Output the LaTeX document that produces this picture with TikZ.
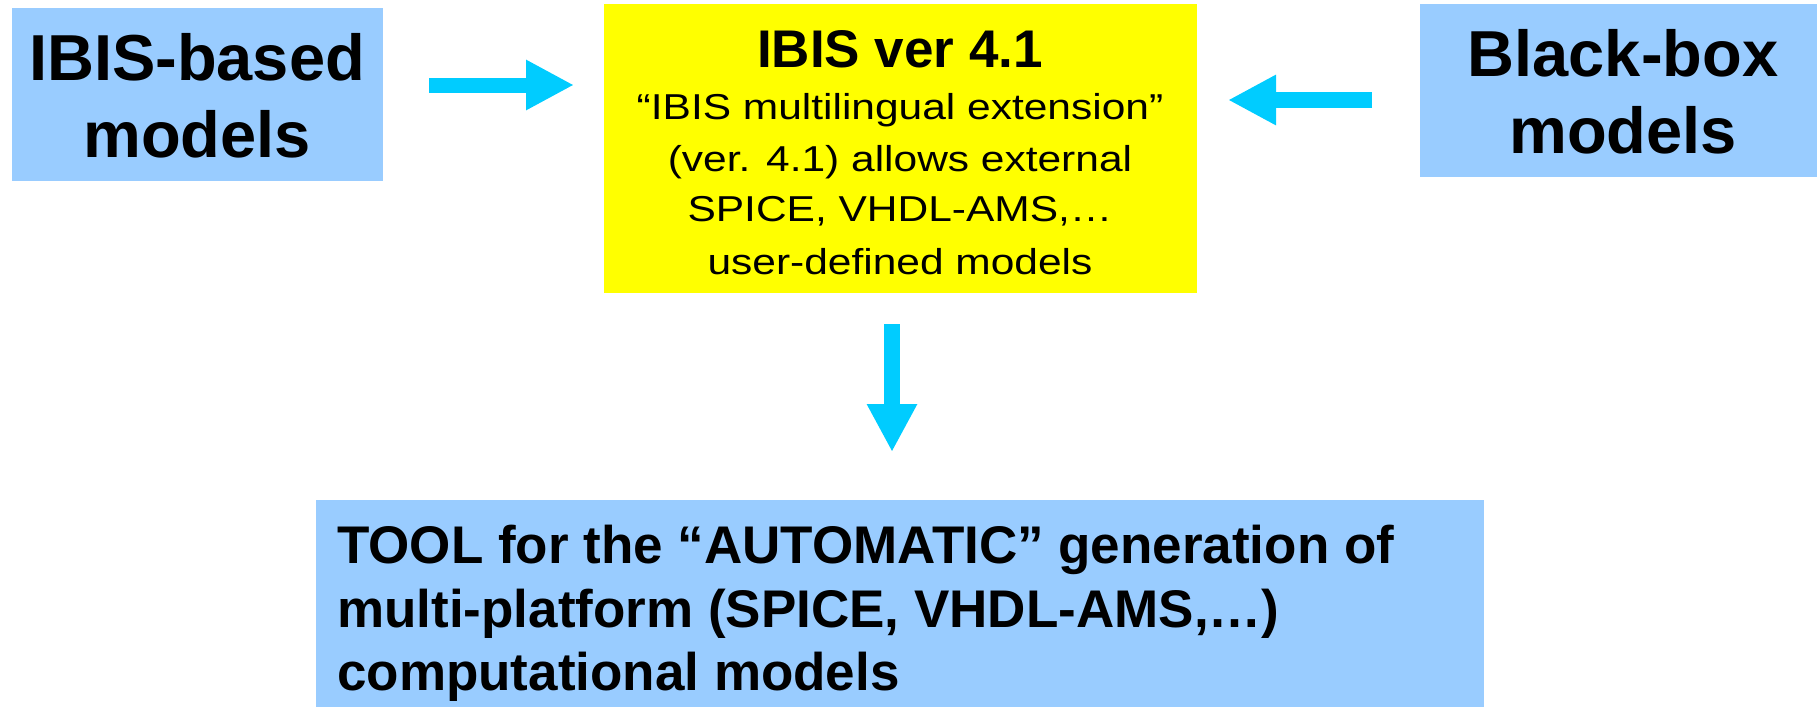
\documentclass[tikz,border=0pt]{standalone}
\usepackage{fontspec}
\setmainfont{Liberation Sans}
\newfontfamily\widefont[FakeStretch=1.18]{Liberation Sans}
\usetikzlibrary{arrows.meta}
\definecolor{boxblue}{RGB}{153,204,255}
\definecolor{boxyellow}{RGB}{255,255,0}
\definecolor{arrowcyan}{RGB}{0,204,255}
\tikzset{
  panel/.style={fill=#1, draw=none, inner sep=0pt, outer sep=0pt},
  bigtext/.style={font=\fontsize{65}{77}\selectfont\bfseries, inner sep=0pt, anchor=base},
  titletext/.style={font=\fontsize{53}{63}\selectfont\bfseries, inner sep=0pt, anchor=base},
  bodytext/.style={font=\widefont\fontsize{36}{52}\selectfont, inner sep=0pt, anchor=base},
  tooltext/.style={font=\fontsize{53}{63}\selectfont\bfseries, inner sep=0pt, anchor=base west},
  flowarrow/.style={draw=arrowcyan, line width=#1, -{Triangle[length=48pt,width=47pt]}},
}
\begin{document}
\begin{tikzpicture}[x=1pt,y=-1pt]
\useasboundingbox (0,0) rectangle (1817,707);
% boxes
\node[panel=boxblue, minimum width=371.5pt, minimum height=173pt] (lbox) at (197.25,94.5) {};
\node[panel=boxyellow, minimum width=593pt, minimum height=289pt] (ybox) at (900.5,148.5) {};
\node[panel=boxblue, minimum width=397pt, minimum height=173pt] (rbox) at (1618.5,90.5) {};
\node[panel=boxblue, minimum width=1168pt, minimum height=207pt] (bbox) at (900,603.5) {};
% left box text
\node[bigtext] (lt1) at (197,80) {IBIS-based};
\node[bigtext] (lt2) at (197,157) {models};
% right box text
\node[bigtext] (rt1) at (1623,76) {Black-box};
\node[bigtext] (rt2) at (1623,153) {models};
% yellow box text
\node[titletext] (yt0) at (900,67) {IBIS ver 4.1};
\node[bodytext] (yt1) at (900,119) {“IBIS multilingual extension”};
\node[bodytext] (yt2) at (900,171) {(ver. 4.1) allows external};
\node[bodytext] (yt3) at (900,221) {SPICE, VHDL-AMS,…};
\node[bodytext] (yt4) at (900,274) {user-defined models};
% bottom box text
\node[tooltext] (bt1) at (337,563) {TOOL for the “AUTOMATIC” generation of};
\node[tooltext] (bt2) at (337,627) {multi-platform (SPICE, VHDL-AMS,…)};
\node[tooltext] (bt3) at (337,690) {computational models};
% arrows
\coordinate (la1) at (429,85);
\coordinate (la2) at (574,85);
\coordinate (ra1) at (1372,100);
\coordinate (ra2) at (1228,100);
\coordinate (da1) at (892,324);
\coordinate (da2) at (892,452);
\draw[flowarrow=15pt] (la1) -- (la2);
\draw[flowarrow=16pt] (ra1) -- (ra2);
\draw[flowarrow=16pt] (da1) -- (da2);
\end{tikzpicture}
\end{document}
